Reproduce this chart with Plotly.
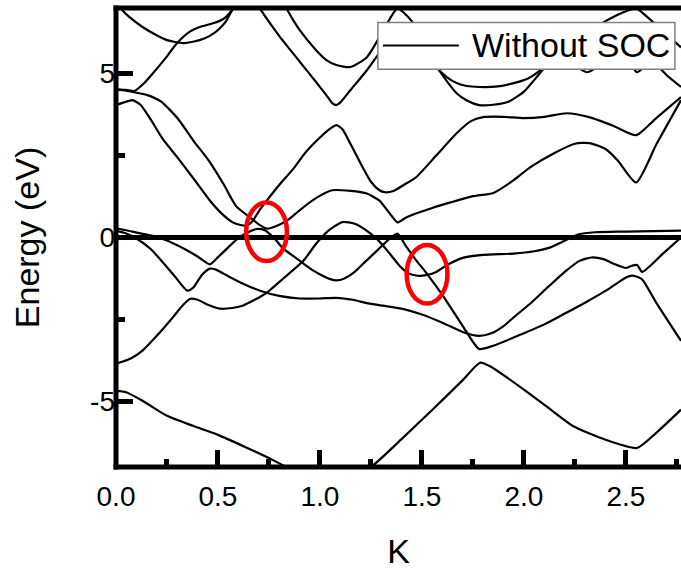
import plotly.graph_objects as go

# ---------------- data ----------------
x_tick_vals = [0, 0.5, 1.0, 1.5, 2.0, 2.5]
x_tick_text = ["0.0", "0.5", "1.0", "1.5", "2.0", "2.5"]
x_minor_vals = [0.25, 0.75, 1.25, 1.75, 2.25, 2.75]
y_tick_vals = [-5, 0, 5]
y_tick_text = ["-5", "0", "5"]
y_minor_vals = [-2.5, 2.5]

band_v1_k = [0, 0.05, 0.13, 0.25, 0.38, 0.5, 0.63, 0.76, 0.85, 1.0, 1.12, 1.26, 1.4, 1.555, 1.7, 1.785,
             1.84, 2.0, 2.12, 2.24, 2.4, 2.554, 2.65, 2.77]
band_v1_e = [-4.68, -4.72, -4.98, -5.44, -5.75, -6.02, -6.38, -6.76, -7.05, -7.55, -7.45, -6.95, -6.15, -5.23, -4.35, -3.82,
             -3.95, -4.64, -5.2, -5.75, -6.17, -6.42, -5.95, -5.25]

band_v2_k = [0, 0.07, 0.13, 0.2, 0.27, 0.33, 0.365, 0.4, 0.45, 0.51, 0.57, 0.62, 0.68, 0.74, 0.82, 0.92, 0.98, 1.04,
             1.11, 1.17, 1.22, 1.28, 1.33, 1.39, 1.43, 1.47, 1.52, 1.57, 1.62, 1.7, 1.8, 1.95, 2.05, 2.13, 2.2, 2.27,
             2.35, 2.5, 2.77]
band_v2_e = [-3.85, -3.7, -3.45, -3.0, -2.5, -2.05, -1.87, -1.9, -2.05, -2.17, -2.15, -2.08, -1.9, -1.68, -1.25, -0.7,
             -0.2, 0.2, 0.47, 0.42, 0.25, -0.05, -0.4, -0.86, -1.08, -1.16, -1.15, -1.05, -0.85, -0.62, -0.53, -0.49,
             -0.42, -0.3, -0.1, 0.1, 0.16, 0.18, 0.21]

band_v3_k = [0, 0.05, 0.1, 0.17, 0.23, 0.29, 0.35, 0.38, 0.42, 0.46, 0.49, 0.55, 0.62, 0.71, 0.8, 0.9, 1.0, 1.08,
             1.16, 1.23, 1.31, 1.4, 1.5, 1.6, 1.7, 1.78, 1.84, 1.9, 1.96, 2.03, 2.12, 2.2, 2.27, 2.33, 2.39, 2.44,
             2.5, 2.53, 2.555, 2.58, 2.68, 2.77]
band_v3_e = [0.2, 0.12, -0.03, -0.35, -0.76, -1.2, -1.62, -1.52, -1.15, -0.95, -0.98, -1.18, -1.4, -1.63, -1.78,
             -1.86, -1.86, -1.84, -1.9, -2.0, -2.08, -2.17, -2.35, -2.6, -2.88, -3.0, -2.92, -2.7, -2.38, -2.02, -1.5,
             -1.05, -0.72, -0.61, -0.66, -0.8, -0.93, -0.86, -0.84, -1.05, -0.5, 0.0]

band_v4_k = [0, 0.05, 0.1, 0.18, 0.25, 0.32, 0.4, 0.46, 0.5, 0.55, 0.6, 0.65, 0.69, 0.73, 0.78, 0.82, 0.87, 0.92,
             0.97, 1.01, 1.05, 1.08, 1.12, 1.17, 1.22, 1.28, 1.33, 1.38, 1.42, 1.47, 1.52, 1.6, 1.7, 1.78, 1.85, 2.0,
             2.1, 2.2, 2.31, 2.42, 2.5, 2.53, 2.555, 2.58, 2.65, 2.77]
band_v4_e = [0.27, 0.22, 0.15, 0.05, -0.09, -0.3, -0.58, -0.82, -0.6, -0.3, -0.02, 0.17, 0.26, 0.22, -0.05, -0.34,
             -0.57, -0.8, -1.02, -1.16, -1.27, -1.31, -1.25, -1.05, -0.75, -0.4, -0.1, 0.12, -0.25, -0.68, -1.07,
             -1.75, -2.7, -3.4, -3.3, -2.92, -2.65, -2.32, -1.95, -1.55, -1.22, -1.16, -1.2, -1.28, -2.0, -3.15]

band_c1_k = [0, 0.05, 0.09, 0.15, 0.22, 0.3, 0.38, 0.46, 0.53, 0.59, 0.66, 0.7, 0.74, 0.79, 0.84, 0.9, 0.98, 1.06,
             1.15, 1.23, 1.29, 1.34, 1.38, 1.42, 1.47, 1.55, 1.64, 1.75, 1.85, 1.95, 2.03, 2.15, 2.25, 2.32, 2.4,
             2.46, 2.55, 2.65, 2.77]
band_c1_e = [4.52, 4.48, 4.43, 4.35, 4.15, 3.65, 2.95, 2.3, 1.6, 0.95, 0.6, 0.4, 0.27, 0.36, 0.52, 0.83, 1.2, 1.44,
             1.42, 1.34, 1.13, 0.75, 0.46, 0.6, 0.73, 0.9, 1.07, 1.26, 1.36, 1.75, 2.14, 2.58, 2.86, 2.88, 2.7,
             2.35, 1.68, 2.85, 4.19]

band_c2_k = [0, 0.04, 0.08, 0.12, 0.17, 0.23, 0.3, 0.38, 0.46, 0.52, 0.57, 0.61, 0.64, 0.67, 0.7, 0.74, 0.8, 0.87,
             0.93, 1.0, 1.05, 1.08, 1.11, 1.15, 1.2, 1.25, 1.29, 1.32, 1.36, 1.41, 1.47, 1.57, 1.67, 1.74, 1.8, 1.9,
             2.0, 2.1, 2.21, 2.32, 2.44, 2.55, 2.65, 2.77]
band_c2_e = [4.04, 4.12, 4.19, 4.05, 3.6, 3.0, 2.45, 1.8, 1.13, 0.72, 0.47, 0.38, 0.36, 0.5, 0.8, 1.13, 1.6, 2.1,
             2.6, 3.05, 3.32, 3.43, 3.3, 2.85, 2.25, 1.7, 1.45, 1.38, 1.42, 1.6, 1.83, 2.5, 3.18, 3.55, 3.67, 3.68,
             3.64, 3.68, 3.79, 3.67, 3.4, 3.12, 3.65, 4.28]

band_r1_k = [0, 0.05, 0.09, 0.14, 0.18, 0.24, 0.3, 0.36, 0.41, 0.48, 0.53, 0.57, 0.6]
band_r1_e = [4.52, 4.5, 4.47, 4.72, 5.0, 5.45, 5.93, 6.27, 6.42, 6.54, 6.68, 6.94, 7.2]

band_u1_k = [0.0, 0.03, 0.08, 0.13, 0.19, 0.25, 0.33, 0.41, 0.46, 0.5, 0.54, 0.57, 0.6]
band_u1_e = [7.2, 6.94, 6.65, 6.42, 6.2, 6.02, 5.93, 6.02, 6.15, 6.33, 6.6, 6.94, 7.2]

band_m1_k = [0.68, 0.71, 0.8, 0.9, 0.98, 1.03, 1.06, 1.08, 1.1, 1.15, 1.23, 1.3, 1.38, 1.45, 1.52, 1.58, 1.63,
             1.67, 1.72, 1.78, 1.85, 1.92, 2.0, 2.07, 2.12, 2.2, 2.26, 2.31, 2.36, 2.45, 2.52, 2.555, 2.59, 2.63,
             2.7, 2.77]
band_m1_e = [7.25, 6.94, 6.15, 5.37, 4.75, 4.35, 4.1, 4.04, 4.12, 4.5, 5.1, 5.7, 6.3, 6.0, 5.6, 5.14, 4.7, 4.4,
             4.18, 4.04, 4.05, 4.13, 4.45, 4.95, 5.3, 5.45, 5.2, 5.04, 5.2, 5.5, 5.3, 5.04, 5.2, 5.35, 4.95, 4.59]

band_m2_k = [0.81, 0.84, 0.9, 0.98, 1.03, 1.08, 1.15, 1.23, 1.3, 1.38, 1.45, 1.52, 1.58, 1.62, 1.67, 1.72, 1.78,
             1.86, 1.95, 2.02, 2.07, 2.12, 2.2, 2.3, 2.4, 2.48, 2.55, 2.6, 2.68, 2.77]
band_m2_e = [7.3, 6.94, 6.33, 5.72, 5.42, 5.26, 5.2, 5.5, 6.2, 6.98, 6.6, 5.8, 5.14, 4.9, 4.71, 4.62, 4.59, 4.6,
             4.71, 4.85, 5.05, 5.35, 5.7, 6.2, 6.6, 6.85, 6.99, 6.75, 6.3, 5.8]

bands = [
    (band_v1_k, band_v1_e), (band_v2_k, band_v2_e), (band_v3_k, band_v3_e), (band_v4_k, band_v4_e),
    (band_c1_k, band_c1_e), (band_c2_k, band_c2_e), (band_r1_k, band_r1_e), (band_u1_k, band_u1_e),
    (band_m1_k, band_m1_e), (band_m2_k, band_m2_e),
]

# highlighted band-touching regions (red ellipses)
highlight_k = [0.738, 1.525]
highlight_e = [0.175, -1.12]

legend_label = "Without SOC"

# ---------------- figure ----------------
fig = go.Figure()
for k, e in bands:
    fig.add_trace(go.Scatter(x=k, y=e, mode="lines", showlegend=False, hoverinfo="skip",
                             line=dict(color="black", width=2.2, shape="spline", smoothing=0.6)))

FONT = "Liberation Sans, Arial, sans-serif"
shapes = []
# Fermi level
shapes.append(dict(type="line", xref="paper", yref="y", x0=0, x1=1, y0=0, y1=0,
                   line=dict(color="black", width=5), layer="above"))
# frame (left, bottom, top)
shapes.append(dict(type="line", xref="paper", yref="paper", x0=0, x1=0, y0=-0.0055, y1=1.0055,
                   line=dict(color="black", width=5), layer="above"))
shapes.append(dict(type="line", xref="paper", yref="paper", x0=-0.0044, x1=1, y0=0, y1=0,
                   line=dict(color="black", width=5), layer="above"))
shapes.append(dict(type="line", xref="paper", yref="paper", x0=-0.0044, x1=1, y0=1, y1=1,
                   line=dict(color="black", width=5), layer="above"))
# ellipses
for ck, ce in zip(highlight_k, highlight_e):
    shapes.append(dict(type="circle", xref="x", yref="y", x0=ck - 0.1, x1=ck + 0.1, y0=ce - 0.895, y1=ce + 0.895,
                       line=dict(color="red", width=4.5), layer="above"))
# legend box
shapes.append(dict(type="rect", xref="x", yref="y", x0=1.284, x1=2.74, y0=5.13, y1=6.56,
                   fillcolor="white", line=dict(color="#7f7f7f", width=1.5), layer="above"))
shapes.append(dict(type="line", xref="x", yref="y", x0=1.309, x1=1.681, y0=5.86, y1=5.86,
                   line=dict(color="black", width=2), layer="above"))

fig.update_layout(
    width=681, height=573,
    margin=dict(l=116, r=0, t=7.5, b=106),
    paper_bgcolor="white", plot_bgcolor="white",
    shapes=shapes,
    annotations=[dict(xref="x", yref="y", x=1.735, y=5.86, text=legend_label, showarrow=False,
                      xanchor="left", yanchor="middle", font=dict(family=FONT, size=34, color="black"))],
    font=dict(family=FONT, color="black"),
    xaxis=dict(range=[0, 2.77], showgrid=False, zeroline=False, showline=False,
               tickmode="array", tickvals=x_tick_vals, ticktext=x_tick_text,
               ticks="inside", ticklen=17, tickwidth=4.5, tickcolor="black", ticklabelstandoff=10,
               tickfont=dict(family=FONT, size=28, color="black"),
               minor=dict(tickmode="array", tickvals=x_minor_vals, ticks="inside", ticklen=8,
                          tickwidth=4.5, tickcolor="black", showgrid=False),
               title=dict(text="K", font=dict(family=FONT, size=34, color="black"), standoff=28)),
    yaxis=dict(range=[-7, 7], showgrid=False, zeroline=False, showline=False,
               tickmode="array", tickvals=y_tick_vals, ticktext=y_tick_text,
               ticks="inside", ticklen=17, tickwidth=4.5, tickcolor="black",
               tickfont=dict(family=FONT, size=28, color="black"),
               minor=dict(tickmode="array", tickvals=y_minor_vals, ticks="inside", ticklen=9,
                          tickwidth=4.5, tickcolor="black", showgrid=False),
               title=dict(text="Energy (eV)", font=dict(family=FONT, size=34, color="black"), standoff=40)),
)

fig.write_html("out.html")
